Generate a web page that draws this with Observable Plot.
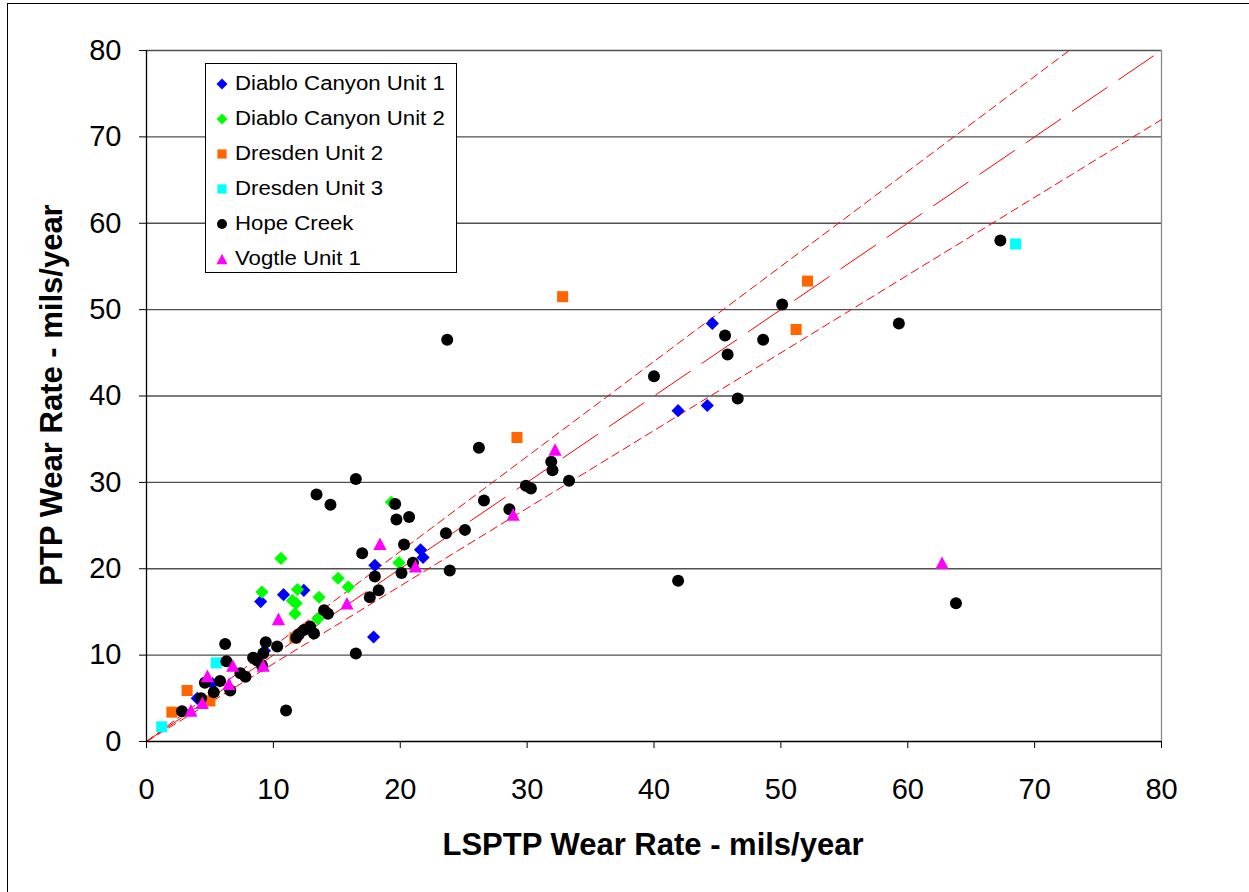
<!DOCTYPE html>
<html>
<head>
<meta charset="utf-8">
<script src="https://cdn.jsdelivr.net/npm/d3@7"></script>
<script src="https://cdn.jsdelivr.net/npm/@observablehq/plot@0.6"></script>
<style>
  body { margin: 0; background: #fff; }
  #chart { position: relative; width: 1249px; height: 892px; overflow: hidden;
           font-family: "Liberation Sans", Arial, sans-serif; background: #fff; }
  #border { position: absolute; left: 7px; top: 3px; width: 1400px; height: 1000px;
            border-left: 1px solid #000; border-top: 1px solid #000; }
  #plot { position: absolute; left: 0; top: 0; }
  .axis-title { position: absolute; font-weight: bold; font-size: 31px; color: #000; white-space: nowrap; }
  #xtitle { left: 653px; top: 845px; transform: translate(-50%, -50%); }
  #ytitle { left: 52px; top: 395px; transform: translate(-50%, -50%) rotate(-90deg); }
  #legend { position: absolute; left: 205px; top: 63px; width: 250px; height: 208px;
            border: 1px solid #000; background: #fff; }
  .row { position: absolute; left: 0; height: 24px; width: 250px; }
  .row svg { position: absolute; left: 9px; top: 6px; }
  .row span { position: absolute; left: 29px; top: 0; font-size: 20px; line-height: 24px;
              transform: scaleX(1.11); transform-origin: left center; white-space: nowrap; }
</style>
</head>
<body>
<div id="chart">
  <div id="border"></div>
  <div id="plot"></div>
  <div id="xtitle" class="axis-title">LSPTP Wear Rate - mils/year</div>
  <div id="ytitle" class="axis-title">PTP Wear Rate - mils/year</div>
  <div id="legend"></div>
</div>
<script>
// Wear rates in mils/year: [LSPTP, PTP] for each tube location
const diabloCanyon1 = [[4.0,5.0],[5.2,6.7],[9.0,16.2],[9.3,10.5],[10.8,17.0],[12.4,17.5],[17.9,12.1],
  [18.0,20.4],[21.6,22.2],[21.8,21.3],[41.9,38.3],[44.2,38.9],[44.6,48.4]];
const diabloCanyon2 = [[9.1,17.3],[10.6,21.2],[11.5,16.3],[11.8,16.0],[11.7,14.8],[11.9,17.6],[13.5,14.2],
  [13.6,16.7],[15.1,18.9],[15.9,17.9],[19.3,27.7],[19.9,20.7]];
const dresden2 = [[2.0,3.4],[3.2,5.9],[5.0,4.7],[11.7,12.0],[29.2,35.2],[32.8,51.5],[51.2,47.7],[52.1,53.3]];
const dresden3 = [[1.2,1.7],[5.5,9.1],[68.5,57.6]];
const hopeCreek = [[2.8,3.5],[4.3,5.0],[4.6,6.8],[5.3,5.7],[5.8,7.0],[6.2,11.3],[6.3,9.3],[6.6,5.9],
  [7.4,7.9],[7.8,7.5],[8.4,9.7],[8.7,9.4],[9.2,10.2],[9.4,11.5],[9.1,8.8],[10.3,11.0],[11.0,3.6],
  [11.8,12.0],[12.0,12.4],[12.4,12.9],[12.9,13.3],[13.2,12.5],[13.4,28.6],[14.0,15.2],[14.3,14.8],
  [14.5,27.4],[16.5,10.2],[16.5,30.4],[17.0,21.8],[17.6,16.7],[18.0,19.1],[18.3,17.5],[19.6,27.5],
  [19.7,25.7],[20.1,19.5],[20.3,22.8],[20.7,26.0],[21.0,20.7],[23.6,24.1],[23.7,46.5],[23.9,19.8],
  [25.1,24.5],[26.2,34.0],[26.6,27.9],[28.6,26.9],[29.9,29.6],[30.3,29.3],[31.9,32.4],[32.0,31.4],
  [33.3,30.2],[40.0,42.3],[41.9,18.6],[45.6,47.0],[45.8,44.8],[46.6,39.7],[48.6,46.5],[50.1,50.6],
  [59.3,48.4],[63.8,16.0],[67.3,58.0]];
const vogtle1 = [[3.5,3.6],[4.4,4.5],[4.8,7.6],[6.5,6.7],[6.8,8.8],[9.2,8.8],[10.4,14.2],[15.8,16.0],
  [18.4,22.9],[21.2,20.3],[28.9,26.3],[32.2,33.8],[62.7,20.7]];

const seriesNames = ["Diablo Canyon Unit 1", "Diablo Canyon Unit 2", "Dresden Unit 2",
                     "Dresden Unit 3", "Hope Creek", "Vogtle Unit 1"];
const seriesValues = [diabloCanyon1, diabloCanyon2, dresden2, dresden3, hopeCreek, vogtle1];
const seriesColors = ["#0000FF", "#00FF00", "#FF6600", "#00FFFF", "#000000", "#FF00FF"];
const seriesShapes = ["diamond", "diamond", "square", "square", "circle", "triangle"];

const xTicks = [0, 10, 20, 30, 40, 50, 60, 70, 80];
const yTicks = [0, 10, 20, 30, 40, 50, 60, 70, 80];

// PTP = slope × LSPTP guide lines (+10 %, 1:1, −10 %)
const refSlopes = [1.1, 1.0, 0.9];
const refDashes = ["8,5", "42,14", "8,5"];

// Marker shapes; r (from size) is the nominal radius
function shape(kind) {
  return {
    draw(ctx, size) {
      const r = Math.sqrt(size / Math.PI);
      if (kind === "diamond") {
        const a = r * 1.1;
        ctx.moveTo(0, -a); ctx.lineTo(a, 0); ctx.lineTo(0, a); ctx.lineTo(-a, 0); ctx.closePath();
      } else if (kind === "square") {
        const a = r * 0.92;
        ctx.moveTo(-a, -a); ctx.lineTo(a, -a); ctx.lineTo(a, a); ctx.lineTo(-a, a); ctx.closePath();
      } else if (kind === "triangle") {
        const w = r * 1.1, h = r * 1.05;
        ctx.moveTo(0, -h); ctx.lineTo(w, h); ctx.lineTo(-w, h); ctx.closePath();
      } else {
        ctx.moveTo(r, 0); ctx.arc(0, 0, r, 0, 2 * Math.PI);
      }
    }
  };
}

const xMax = xTicks[xTicks.length - 1];
const yMax = yTicks[yTicks.length - 1];
const refLines = refSlopes.map(s => [[0, 0], [Math.min(xMax, yMax / s), Math.min(xMax, yMax / s) * s]]);

const marks = [
  Plot.ruleY(yTicks.filter(d => d > 0), {stroke: "#505050", strokeWidth: 1.3}),
  Plot.ruleX([xMax], {stroke: "#8a8a8a", strokeWidth: 1.3}),
  ...refLines.map((pts, i) => Plot.line(pts, {
    x: d => d[0], y: d => d[1], stroke: "#FF0000", strokeWidth: 1, strokeDasharray: refDashes[i]
  })),
  ...seriesValues.map((vals, i) => Plot.dot(vals, {
    x: d => d[0], y: d => d[1], r: 6, symbol: shape(seriesShapes[i]),
    fill: seriesColors[i], stroke: "none"
  })),
  Plot.ruleX([0], {stroke: "#000", strokeWidth: 1.3}),
  Plot.ruleY([0], {stroke: "#000", strokeWidth: 1.3})
];

const chart = Plot.plot({
  width: 1249,
  height: 892,
  marginLeft: 146,
  marginRight: 88,
  marginTop: 50,
  marginBottom: 151,
  style: {fontFamily: '"Liberation Sans", Arial, sans-serif', fontSize: "29px", background: "transparent", overflow: "visible"},
  x: {domain: [0, xMax], ticks: xTicks, tickSize: 7, tickPadding: 30, label: null},
  y: {domain: [0, yMax], ticks: yTicks, tickSize: 7, tickPadding: 18, label: null},
  marks
});
document.getElementById("plot").appendChild(chart);

// Legend
const legend = document.getElementById("legend");
seriesNames.forEach((name, i) => {
  const row = document.createElement("div");
  row.className = "row";
  row.style.top = (7 + i * 35) + "px";
  const svg = d3.create("svg").attr("width", 14).attr("height", 14);
  svg.append("path")
    .attr("transform", "translate(7,7)")
    .attr("d", d3.symbol(shape(seriesShapes[i]), Math.PI * 25)())
    .attr("fill", seriesColors[i]);
  row.appendChild(svg.node());
  const label = document.createElement("span");
  label.textContent = name;
  row.appendChild(label);
  legend.appendChild(row);
});
</script>
</body>
</html>
